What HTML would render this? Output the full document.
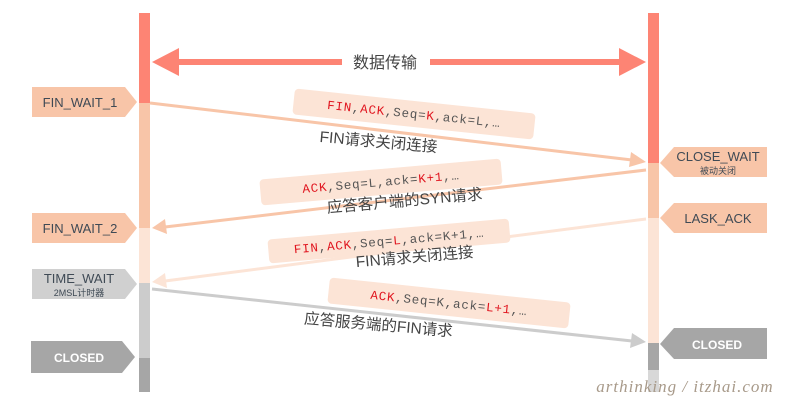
<!DOCTYPE html>
<html><head><meta charset="utf-8"><style>
html,body{margin:0;padding:0;background:#fff;}
svg{display:block;}
.m{font-family:"Liberation Mono","DejaVu Sans Mono",monospace;font-size:12.5px;fill:#555;letter-spacing:0.8px;}
.r{fill:#e0141e;}
.c{font-family:"Liberation Sans","Noto Sans CJK SC",sans-serif;font-size:15.5px;fill:#444;}
.l{font-family:"Liberation Sans","Noto Sans CJK SC",sans-serif;font-size:13px;fill:#3f4a55;}
</style></head><body>
<svg width="800" height="405" viewBox="0 0 800 405" xmlns="http://www.w3.org/2000/svg">
<rect x="139" y="13" width="11" height="90" fill="#fd8474"/>
<rect x="139" y="103" width="11" height="125" fill="#f8c5a8"/>
<rect x="139" y="228" width="11" height="55" fill="#fce4d6"/>
<rect x="139" y="283" width="11" height="75" fill="#cccccc"/>
<rect x="139" y="358" width="11" height="34" fill="#a6a6a6"/>
<rect x="648" y="13" width="11" height="150" fill="#fd8474"/>
<rect x="648" y="163" width="11" height="55" fill="#f8c5a8"/>
<rect x="648" y="218" width="11" height="125" fill="#fce4d6"/>
<rect x="648" y="343" width="11" height="27" fill="#a6a6a6"/>
<rect x="648" y="370" width="11" height="22" fill="#d8d8d8"/>
<line x1="175" y1="62" x2="342" y2="62" stroke="#fd8474" stroke-width="6"/>
<line x1="430" y1="62" x2="625" y2="62" stroke="#fd8474" stroke-width="6"/>
<polygon points="152,62 179,48 179,76" fill="#fd8474"/>
<polygon points="646,62 619,48 619,76" fill="#fd8474"/>
<text x="385" y="68" text-anchor="middle" class="c" style="font-size:16px">数据传输</text>
<polygon points="32,87 125,87 137,102 125,117 32,117" fill="#f8c5a8"/>
<text x="80" y="107" text-anchor="middle" class="l">FIN_WAIT_1</text>
<polygon points="32,213 125,213 137,228 125,243 32,243" fill="#f8c5a8"/>
<text x="80" y="233" text-anchor="middle" class="l">FIN_WAIT_2</text>
<polygon points="32,269 125,269 137,284 125,299 32,299" fill="#d0d0d0"/>
<text x="79" y="283" text-anchor="middle" class="l">TIME_WAIT</text>
<text x="79" y="296" text-anchor="middle" class="l" style="font-size:9px">2MSL计时器</text>
<polygon points="31,341 122,341 135,357 122,373 31,373" fill="#a6a6a6"/>
<text x="79" y="362" text-anchor="middle" class="l" style="fill:#fff;font-weight:bold;font-size:12px">CLOSED</text>
<polygon points="660,163 674,147 767,147 767,177 674,177" fill="#f8c5a8"/>
<text x="718" y="161" text-anchor="middle" class="l">CLOSE_WAIT</text>
<text x="718" y="174" text-anchor="middle" class="l" style="font-size:9px">被动关闭</text>
<polygon points="660,218 674,203 767,203 767,233 674,233" fill="#f8c5a8"/>
<text x="718" y="223" text-anchor="middle" class="l">LASK_ACK</text>
<polygon points="660,344 674,328 767,328 767,359 674,359" fill="#a6a6a6"/>
<text x="717" y="349" text-anchor="middle" class="l" style="fill:#fff;font-weight:bold;font-size:12px">CLOSED</text>
<line x1="150" y1="103" x2="632" y2="160" stroke="#f8c5a8" stroke-width="3"/>
<polygon points="646,162 631,152 629,167" fill="#f8c5a8"/>
<line x1="646" y1="170" x2="165" y2="227" stroke="#f8c5a8" stroke-width="3"/>
<polygon points="152,228 165,219 167,234" fill="#f8c5a8"/>
<line x1="646" y1="219" x2="165" y2="281" stroke="#fce4d6" stroke-width="3"/>
<polygon points="152,282 165,273 167,288" fill="#fce4d6"/>
<line x1="152" y1="289" x2="632" y2="341" stroke="#cccccc" stroke-width="3"/>
<polygon points="646,342 632,333 630,348" fill="#cccccc"/>
<g transform="translate(414,114) rotate(6)">
<rect x="-121" y="-13" width="242" height="26" rx="4" fill="#fce4d6"/>
<text x="0" y="4" text-anchor="middle" class="m"><tspan class="r">FIN</tspan>,<tspan class="r">ACK</tspan>,Seq=<tspan class="r">K</tspan>,ack=L,…</text>
</g>
<text transform="translate(378,147) rotate(5)" text-anchor="middle" class="c">FIN请求关闭连接</text>
<g transform="translate(381,182) rotate(-5)">
<rect x="-121" y="-13" width="242" height="26" rx="4" fill="#fce4d6"/>
<text x="0" y="4" text-anchor="middle" class="m"><tspan class="r">ACK</tspan>,Seq=L,ack=<tspan class="r">K+1</tspan>,…</text>
</g>
<text transform="translate(405,206) rotate(-5)" text-anchor="middle" class="c">应答客户端的SYN请求</text>
<g transform="translate(389,241) rotate(-5)">
<rect x="-121" y="-12" width="242" height="24" rx="4" fill="#fce4d6"/>
<text x="0" y="4" text-anchor="middle" class="m"><tspan class="r">FIN</tspan>,<tspan class="r">ACK</tspan>,Seq=<tspan class="r">L</tspan>,ack=K+1,…</text>
</g>
<text transform="translate(415,262) rotate(-5)" text-anchor="middle" class="c">FIN请求关闭连接</text>
<g transform="translate(449,303) rotate(6)">
<rect x="-121" y="-13" width="242" height="26" rx="4" fill="#fce4d6"/>
<text x="0" y="4" text-anchor="middle" class="m"><tspan class="r">ACK</tspan>,Seq=K,ack=<tspan class="r">L+1</tspan>,…</text>
</g>
<text transform="translate(378,330) rotate(5)" text-anchor="middle" class="c">应答服务端的FIN请求</text>
<text x="685" y="392" text-anchor="middle" style="font-family:'Liberation Serif',serif;font-style:italic;font-size:17px;fill:#a89a8a;letter-spacing:1px">arthinking / itzhai.com</text>
</svg>
</body></html>
